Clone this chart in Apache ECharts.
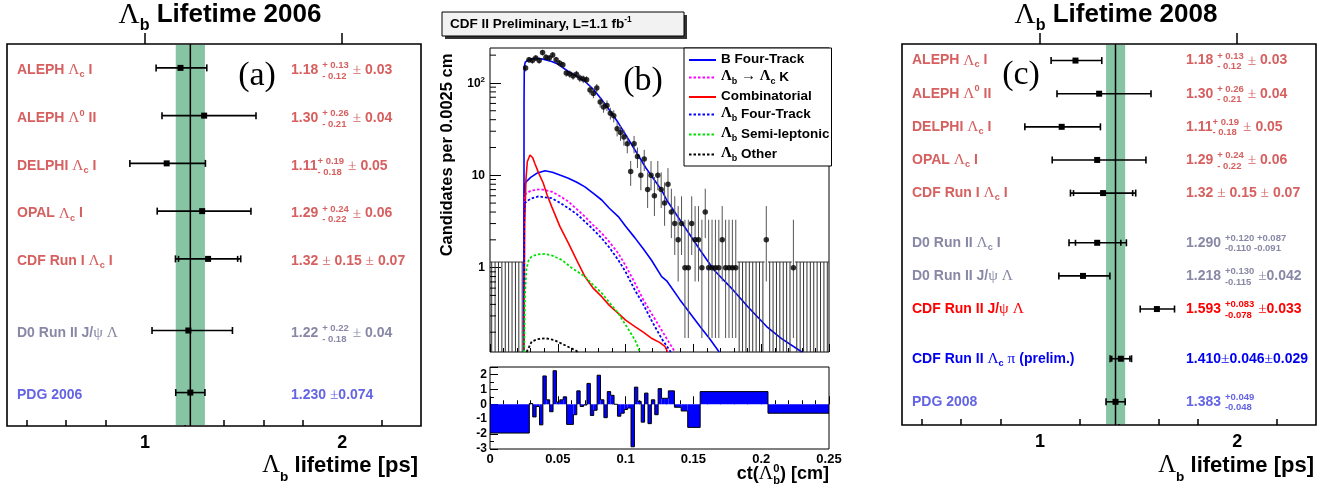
<!DOCTYPE html>
<html><head><meta charset="utf-8">
<script src="https://cdn.jsdelivr.net/npm/echarts@6/dist/echarts.min.js"></script>
<style>html,body{margin:0;padding:0;background:#fff}#c{width:1338px;height:489px}</style>
</head><body><div id="c"></div>
<script>
// ================= DATA =================
// Panel (a): Lambda_b lifetime 2006
const a_labels = ['ALEPH Λ_{c} I','ALEPH Λ^{0} II','DELPHI Λ_{c} I','OPAL Λ_{c} I','CDF Run I Λ_{c} I','D0 Run II J/ψ Λ','PDG 2006'];
const a_value  = [1.18, 1.30, 1.11, 1.29, 1.32, 1.22, 1.230];
const a_statUp = [0.13, 0.26, 0.19, 0.24, 0.15, 0.22, 0.074];
const a_statDn = [0.12, 0.21, 0.18, 0.22, 0.15, 0.18, 0.074];
const a_systUp = [0.03, 0.04, 0.05, 0.06, 0.07, 0.04, 0];
const a_systDn = [0.03, 0.04, 0.05, 0.06, 0.07, 0.04, 0];
const a_row    = [0.5, 1.5, 2.5, 3.5, 4.5, 6.0, 7.3];
const a_group  = ['lep','lep','lep','lep','lep','d0','pdg'];
const a_inner  = [0, 0, 0, 0, 1, 0, 0];
const a_text   = ['1.18 {{+ 0.13|- 0.12}} ± 0.03','1.30 {{+ 0.26|- 0.21}} ± 0.04','1.11{{+ 0.19|- 0.18}} ± 0.05',
                  '1.29 {{+ 0.24|- 0.22}} ± 0.06','1.32 ± 0.15 ± 0.07','1.22 {{+ 0.22|- 0.18}} ± 0.04','1.230 ±0.074'];
const a_pdg = {value: 1.230, up: 0.074, dn: 0.074};

// Panel (c): Lambda_b lifetime 2008
const c_labels = ['ALEPH Λ_{c} I','ALEPH Λ^{0} II','DELPHI Λ_{c} I','OPAL Λ_{c} I','CDF Run I Λ_{c} I',
                  'D0 Run II Λ_{c} I','D0 Run II J/ψ Λ','CDF Run II J/ψ Λ','CDF Run II Λ_{c} π (prelim.)','PDG 2008'];
const c_value  = [1.18, 1.30, 1.11, 1.29, 1.32, 1.290, 1.218, 1.593, 1.410, 1.383];
const c_statUp = [0.13, 0.26, 0.19, 0.24, 0.15, 0.120, 0.130, 0.083, 0.046, 0.049];
const c_statDn = [0.12, 0.21, 0.18, 0.22, 0.15, 0.110, 0.115, 0.078, 0.046, 0.048];
const c_systUp = [0.03, 0.04, 0.05, 0.06, 0.07, 0.087, 0.042, 0.033, 0.029, 0];
const c_systDn = [0.03, 0.04, 0.05, 0.06, 0.07, 0.091, 0.042, 0.033, 0.029, 0];
const c_row    = [0.5, 1.5, 2.5, 3.5, 4.5, 6, 7, 8, 9.5, 10.8];
const c_group  = ['lep','lep','lep','lep','lep','d0','d0','cdfR','cdfB','pdg'];
const c_inner  = [0, 0, 0, 0, 1, 1, 0, 0, 1, 0];
const c_text   = ['1.18 {{+ 0.13|- 0.12}} ± 0.03','1.30 {{+ 0.26|- 0.21}} ± 0.04','1.11{{+ 0.19|- 0.18}} ± 0.05',
                  '1.29 {{+ 0.24|- 0.22}} ± 0.06','1.32 ± 0.15 ± 0.07','1.290 {{+0.120 +0.087|-0.110 -0.091}}',
                  '1.218 {{+0.130|-0.115}} ±0.042','1.593 {{+0.083|-0.078}} ±0.033','1.410±0.046±0.029','1.383 {{+0.049|-0.048}}'];
const c_pdg = {value: 1.383, up: 0.049, dn: 0.048};

const lifeMajorTicks = [1, 2];
const lifeMinorTicks = [0.4, 0.6, 0.8, 1.2, 1.4, 1.6, 1.8, 2.2];

// Panel (b): ct distribution, counts per 0.0025 cm bin (bins 0..99)
const binWidth = 0.0025;
const counts = [
  0,0,0,0,0,0,0,0,0,0,
  145,178,175,186,175,213,190,186,201,178,
  164,157,128,125,119,124,113,110,108,84,
  77,88,62,55,57,47,44,32,29,26,
  22,11,22,16,10,15,7,10,6,10,
  7,5,8,4,3,2,3,1,1,3,
  2,2,1,4,1,1,1,1,2,1,
  1,1,1,0,0,0,0,0,0,0,
  0,2,0,0,0,0,0,0,0,1,
  0,0,0,0,0,0,0,0,0,0];
const zeroBinUpper = 1.15;
const poissonLo = [0, 0.173, 0.708, 1.37, 2.09, 2.84, 3.62, 4.42, 5.23, 6.06, 6.89];
const poissonHi = [1.15, 3.30, 4.64, 5.92, 7.16, 8.38, 9.58, 10.77, 11.95, 13.11, 14.27];

const fitTotal = [[0.0250,0.122],[0.0251,60],[0.0253,150],[0.0260,168],[0.0280,176],[0.0300,181],[0.0330,185],[0.0360,184],
  [0.0400,180],[0.0455,171],[0.0500,160],[0.0578,133],[0.0640,118],[0.0700,104],[0.0760,86],[0.0824,66],[0.0880,51],
  [0.0946,37],[0.1000,27.5],[0.1069,18.8],[0.1150,12],[0.1266,6.9],[0.1303,5.4],[0.1400,3.3],[0.1549,1.55],[0.1650,0.95],
  [0.1794,0.57],[0.1900,0.38],[0.2040,0.23],[0.2150,0.17],[0.2300,0.122]];
const bFourTrack = [[0.0250,0.122],[0.0252,5],[0.0256,8],[0.0267,8.5],[0.0300,9.5],[0.0350,10.6],[0.0406,11.2],[0.0460,10.8],
  [0.0520,10.0],[0.0578,9.3],[0.0640,8.4],[0.0700,7.5],[0.0760,6.4],[0.0824,5.4],[0.0880,4.4],[0.0946,3.57],[0.1000,2.8],
  [0.1069,2.1],[0.1130,1.6],[0.1190,1.21],[0.1266,0.8],[0.1303,0.72],[0.1400,0.45],[0.1549,0.23],[0.1620,0.17],[0.1690,0.122]];
const lbLcK = [[0.0250,0.122],[0.0252,4],[0.0256,6.2],[0.0300,6.8],[0.0369,7.07],[0.0455,6.66],[0.0520,5.9],[0.0578,5.19],
  [0.0640,4.3],[0.0700,3.57],[0.0760,2.9],[0.0824,2.36],[0.0880,1.9],[0.0946,1.43],[0.1000,1.05],[0.1069,0.68],[0.1130,0.45],
  [0.1190,0.32],[0.1266,0.21],[0.1320,0.155],[0.1364,0.122]];
const combinatorial = [[0.0250,0.122],[0.0256,3],[0.0265,9],[0.0275,14],[0.0295,16.6],[0.0315,15.5],[0.0330,13.5],[0.0360,10.5],
  [0.0393,8.2],[0.0420,6.2],[0.0455,4.58],[0.0516,2.78],[0.0578,1.84],[0.0640,1.2],[0.0700,0.8],[0.0760,0.6],[0.0824,0.485],
  [0.0880,0.39],[0.0946,0.32],[0.1000,0.27],[0.1069,0.23],[0.1130,0.2],[0.1190,0.172],[0.1250,0.155],[0.1290,0.14],[0.1310,0.122]];
const lbFourTrack = [[0.0250,0.122],[0.0252,3.5],[0.0256,5.0],[0.0300,5.6],[0.0357,5.9],[0.0455,5.65],[0.0520,5.0],[0.0578,4.4],
  [0.0640,3.8],[0.0700,3.15],[0.0760,2.6],[0.0824,2.08],[0.0880,1.65],[0.0946,1.21],[0.1000,0.9],[0.1069,0.57],[0.1130,0.4],
  [0.1190,0.27],[0.1266,0.17],[0.1333,0.122]];
const lbSemiLep = [[0.0252,0.122],[0.0258,0.5],[0.0268,0.95],[0.0285,1.2],[0.0307,1.32],[0.0350,1.39],[0.0406,1.41],[0.0460,1.35],
  [0.0530,1.21],[0.0600,1.0],[0.0700,0.8],[0.0760,0.65],[0.0824,0.53],[0.0880,0.42],[0.0946,0.32],[0.1000,0.24],[0.1069,0.165],[0.1106,0.122]];
const lbOther = [[0.0270,0.122],[0.0290,0.14],[0.0307,0.158],[0.0350,0.168],[0.0406,0.172],[0.0470,0.165],[0.0530,0.15],
  [0.0580,0.138],[0.0627,0.128],[0.0650,0.122]];

// residuals (bin edges and values)
const resEdges = [0, 0.0290, 0.0315, 0.0340, 0.0365, 0.0390, 0.0415, 0.0440, 0.0465, 0.0490, 0.0515, 0.0540, 0.0565, 0.0590,
  0.0615, 0.0640, 0.0665, 0.0690, 0.0715, 0.0740, 0.0765, 0.0790, 0.0815, 0.0840, 0.0865, 0.0890, 0.0915, 0.0940, 0.0965,
  0.0990, 0.1015, 0.1040, 0.1065, 0.1090, 0.1115, 0.1140, 0.1165, 0.1190, 0.1215, 0.1240, 0.1265, 0.1290, 0.1315,
  0.1360, 0.1410, 0.1458, 0.1550, 0.2050, 0.2500];
const resVals = [-1.93, 0.05, -0.85, -0.15, -1.38, 1.9, 0.3, -0.5, 2.25, 0.15, 0.3, 0.5, -1.35, -1.35, -0.7, 0.9, -0.15, -0.05,
  1.4, -0.75, -0.4, 1.95, 0.3, -0.9, 0.85, 0.6, 0, -0.8, -0.6, -0.35, -0.25, -2.85, 1.15, 0.2, -1.2, 0.75, -1.3, 0.3, -0.7,
  1.05, 0.4, 0.4, 0.9, -0.2, -0.45, -1.55, 0.85, -0.6];

// ================= HELPERS =================
const SANS = 'Liberation Sans', SERIF = 'Liberation Serif';
const GROUP_COLORS = {lep:'#d6605f', d0:'#8888a6', pdg:'#6464e4', cdfR:'#ff0000', cdfB:'#0000f0'};
const mctx = document.createElement('canvas').getContext('2d');
function tw(t, f) { mctx.font = f; return mctx.measureText(t).width; }
function parseMarkup(s) {
  const re = /(\{\{[^|}]*\|[^}]*\}\}|_\{[^}]*\}|\^\{[^}]*\}|[Λψπ→±])/g;
  const out = []; let last = 0, m;
  while ((m = re.exec(s))) {
    if (m.index > last) out.push({k:'n', t:s.slice(last, m.index)});
    const tok = m[0];
    if (tok.startsWith('{{')) { const p = tok.slice(2, -2).split('|'); out.push({k:'st', up:p[0], dn:p[1]}); }
    else if (tok[0] === '_') out.push({k:'sub', t:tok.slice(2, -1)});
    else if (tok[0] === '^') out.push({k:'sup', t:tok.slice(2, -1)});
    else out.push({k:'g', t:tok});
    last = re.lastIndex;
  }
  if (last < s.length) out.push({k:'n', t:s.slice(last)});
  return out;
}
function composeText(s, x, y, align, color, size, o) {
  o = Object.assign({sub:0.31, sup:-0.36, scr:0.66, g:1.1, stUp:-0.33, stDn:0.43}, o || {});
  const fN = `bold ${size}px "${SANS}"`;
  const fG = `${(size*o.g).toFixed(1)}px "${SERIF}"`;
  const fS = `bold ${(size*o.scr).toFixed(1)}px "${SANS}"`;
  const items = []; let w = 0;
  parseMarkup(s).forEach(t => {
    if (t.k === 'st') {
      items.push({t:t.up, f:fS, dx:w, dy:size*o.stUp});
      items.push({t:t.dn, f:fS, dx:w, dy:size*o.stDn});
      w += Math.max(tw(t.up, fS), tw(t.dn, fS));
    } else {
      const f = t.k === 'n' ? fN : (t.k === 'g' ? fG : fS);
      const dy = t.k === 'sub' ? size*o.sub : (t.k === 'sup' ? size*o.sup : 0);
      items.push({t:t.t, f, dx:w, dy});
      w += tw(t.t, f);
    }
  });
  const x0 = align === 'right' ? x - w : (align === 'center' ? x - w/2 : x);
  return items.map(it => ({type:'text', x:x0 + it.dx, y:y + it.dy, silent:true,
    style:{text:it.t, font:it.f, fill:color, align:'left', verticalAlign:'middle'}}));
}

function forestSeries(P, xIdx, yIdx, textDy) {
  const data = P.value.map((v, i) => {
    const tu = Math.sqrt(P.statUp[i]**2 + P.systUp[i]**2), td = Math.sqrt(P.statDn[i]**2 + P.systDn[i]**2);
    return [v, v - td, v + tu, v - P.statDn[i], v + P.statUp[i], P.row[i], i];
  });
  return {
    type:'custom', xAxisIndex:xIdx, yAxisIndex:yIdx, z:5, clip:false, data,
    encode:{x:[0,1,2], y:5},
    renderItem(params, api) {
      const i = api.value(6), cs = params.coordSys;
      const pc = api.coord([api.value(0), api.value(5)]);
      const y = pc[1];
      const xl = api.coord([api.value(1), api.value(5)])[0], xh = api.coord([api.value(2), api.value(5)])[0];
      const sl = api.coord([api.value(3), api.value(5)])[0], sh = api.coord([api.value(4), api.value(5)])[0];
      const ls = {stroke:'#000', lineWidth:1.6};
      const ch = [
        {type:'line', shape:{x1:xl, y1:y, x2:xh, y2:y}, style:ls},
        {type:'line', shape:{x1:xl, y1:y-3.5, x2:xl, y2:y+3.5}, style:ls},
        {type:'line', shape:{x1:xh, y1:y-3.5, x2:xh, y2:y+3.5}, style:ls}
      ];
      if (P.inner[i]) {
        ch.push({type:'line', shape:{x1:sl, y1:y-3, x2:sl, y2:y+3}, style:ls});
        ch.push({type:'line', shape:{x1:sh, y1:y-3, x2:sh, y2:y+3}, style:ls});
      }
      ch.push({type:'rect', shape:{x:pc[0]-3, y:y-3, width:6, height:6}, style:{fill:'#000'}});
      const col = GROUP_COLORS[P.group[i]];
      composeText(P.labels[i], cs.x + 10, y + textDy, 'left', col, 14).forEach(e => ch.push(e));
      composeText(P.text[i], cs.x + 284, y + textDy, 'left', col, 14, {scr:0.68}).forEach(e => ch.push(e));
      return {type:'group', children:ch};
    }
  };
}
function bandSeries(pdg, xIdx, yIdx) {
  return {
    type:'custom', xAxisIndex:xIdx, yAxisIndex:yIdx, z:1, clip:false,
    data:[[pdg.value - pdg.dn, pdg.value + pdg.up, pdg.value]], encode:{x:[0,1,2]},
    renderItem(params, api) {
      const cs = params.coordSys;
      const x0 = api.coord([api.value(0), 0])[0], x1 = api.coord([api.value(1), 0])[0], xc = api.coord([api.value(2), 0])[0];
      return {type:'group', children:[
        {type:'rect', shape:{x:x0, y:cs.y+1, width:x1-x0, height:cs.height-2}, style:{fill:'#86c4a4'}},
        {type:'line', shape:{x1:xc, y1:cs.y, x2:xc, y2:cs.y+cs.height}, style:{stroke:'#000', lineWidth:1.5}}
      ]};
    }
  };
}

// ================= CHART =================
const chart = echarts.init(document.getElementById('c'), null, {renderer:'canvas'});

const P_a = {labels:a_labels, value:a_value, statUp:a_statUp, statDn:a_statDn, systUp:a_systUp, systDn:a_systDn,
             row:a_row, group:a_group, inner:a_inner, text:a_text};
const P_c = {labels:c_labels, value:c_value, statUp:c_statUp, statDn:c_statDn, systUp:c_systUp, systDn:c_systDn,
             row:c_row, group:c_group, inner:c_inner, text:c_text};

function lifeAxes(gi) {
  return [
    {type:'value', gridIndex:gi, min:0.3, max:2.4, position:'bottom',
     axisLine:{show:false}, splitLine:{show:false},
     axisTick:{inside:true, length:11, customValues:lifeMajorTicks, lineStyle:{color:'#000', width:1.5}},
     axisLabel:{customValues:lifeMajorTicks, margin:8, color:'#000', fontFamily:SANS, fontWeight:'bold', fontSize:18}},
    {type:'value', gridIndex:gi, min:0.3, max:2.4, position:'bottom',
     axisLine:{show:false}, splitLine:{show:false},
     axisTick:{inside:true, length:6, customValues:lifeMinorTicks, lineStyle:{color:'#000', width:1.5}},
     axisLabel:{show:false}}
  ];
}

const compNames = ['B Four-Track', 'Λb → Λc K', 'Combinatorial', 'Λb Four-Track', 'Λb Semi-leptonic', 'Λb Other'];
const legendRich = {
  'B Four-Track':'{n|B Four-Track}',
  'Λb → Λc K':'{L|Λ}{s|b}{n| }{L|→}{n| }{L|Λ}{s|c}{n| K}',
  'Combinatorial':'{n|Combinatorial}',
  'Λb Four-Track':'{L|Λ}{s|b}{n| Four-Track}',
  'Λb Semi-leptonic':'{L|Λ}{s|b}{n| Semi-leptonic}',
  'Λb Other':'{L|Λ}{s|b}{n| Other}'
};
function curve(name, data, color, dashed) {
  return {type:'line', name, xAxisIndex:4, yAxisIndex:2, data, symbol:'none', showSymbol:false, smooth:false,
    z:3, color, lineStyle:{color, width:dashed ? 1.8 : 1.6, type:dashed ? [2.5, 2] : 'solid'}, silent:true, animation:false};
}

const points = counts.map((n, k) => n > 0 ? [(k + 0.5)*binWidth, n] : null).filter(Boolean);
const errItems = counts.map((n, k) => {
  let lo, hi;
  if (n === 0) { lo = 0; hi = zeroBinUpper; }
  else if (n < poissonLo.length) { lo = poissonLo[n]; hi = poissonHi[n]; }
  else { lo = n - Math.sqrt(n); hi = n + Math.sqrt(n); }
  return [(k + 0.5)*binWidth, hi, lo, n];
});
const logMinor = [];
[-1, 0, 1, 2].forEach(e => { for (let m = 2; m <= 9; m++) { const v = m*Math.pow(10, e); if (v > 0.122 && v < 239) logMinor.push([0, v]); } });
const resItems = resVals.map((v, i) => [resEdges[i], resEdges[i+1], v, i > 0 ? resVals[i-1] : 0, i === resVals.length - 1 ? 1 : 0]);

const option = {
  animation:false,
  backgroundColor:'#fff',
  grid:[
    {left:7, top:44, width:414, height:382, show:true, borderColor:'#000', borderWidth:1.6, backgroundColor:'transparent', outerBoundsMode:'none', containLabel:false},
    {left:902, top:44, width:414, height:381, show:true, borderColor:'#000', borderWidth:1.6, backgroundColor:'transparent', outerBoundsMode:'none', containLabel:false},
    {left:490, top:48, width:339, height:304, show:true, borderColor:'#000', borderWidth:1, backgroundColor:'transparent', outerBoundsMode:'none', containLabel:false},
    {left:490, top:367, width:339, height:82, show:true, borderColor:'#000', borderWidth:1, backgroundColor:'transparent', outerBoundsMode:'none', containLabel:false}
  ],
  xAxis:[
    ...lifeAxes(0), ...lifeAxes(1),
    {type:'value', gridIndex:2, min:0, max:0.25, interval:0.05, axisLine:{show:false}, splitLine:{show:false},
     axisTick:{inside:true, length:8, lineStyle:{color:'#000'}}, minorTick:{show:true, splitNumber:5, length:4, lineStyle:{color:'#000'}},
     axisLabel:{show:false}},
    {type:'value', gridIndex:3, min:0, max:0.25, interval:0.05, axisLine:{show:false}, splitLine:{show:false},
     axisTick:{inside:true, length:8, lineStyle:{color:'#000'}}, minorTick:{show:true, splitNumber:5, length:4, lineStyle:{color:'#000'}},
     axisLabel:{margin:4, color:'#000', fontFamily:SANS, fontWeight:'bold', fontSize:13,
       formatter:v => String(Math.round(v*100)/100)}}
  ],
  yAxis:[
    {type:'value', gridIndex:0, min:0, max:8, inverse:true, show:false},
    {type:'value', gridIndex:1, min:0, max:11.5, inverse:true, show:false},
    {type:'log', gridIndex:2, logBase:10, min:0.122, max:239, axisLine:{show:false}, splitLine:{show:false},
     axisTick:{inside:true, length:11, lineStyle:{color:'#000'}},
     axisLabel:{showMinLabel:false, showMaxLabel:false, margin:5, color:'#000', fontFamily:SANS, fontWeight:'bold', fontSize:12,
       formatter:v => { const e = Math.round(Math.log10(v)); return e === 2 ? '{b|10}{s|2}' : String(Math.round(v)); },
       rich:{b:{fontFamily:SANS, fontWeight:'bold', fontSize:12, color:'#000', verticalAlign:'bottom'},
             s:{fontFamily:SANS, fontWeight:'bold', fontSize:8, color:'#000', verticalAlign:'bottom', padding:[0,0,6,0]}}}},
    {type:'value', gridIndex:3, min:-3, max:2.5, interval:1, axisLine:{show:false}, splitLine:{show:false},
     axisTick:{inside:true, length:8, lineStyle:{color:'#000'}}, minorTick:{show:true, splitNumber:2, length:4, lineStyle:{color:'#000'}},
     axisLabel:{showMaxLabel:false, margin:3, color:'#000', fontFamily:SANS, fontWeight:'bold', fontSize:12}}
  ],
  legend:{
    data:compNames, left:684, top:48, orient:'vertical', padding:[4, 2, 3, 4], itemGap:3, itemWidth:27, itemHeight:14,
    backgroundColor:'#fff', borderColor:'#000', borderWidth:1, borderRadius:0, selectedMode:false,
    itemStyle:{opacity:0},
    formatter:n => legendRich[n],
    textStyle:{color:'#000', fontFamily:SANS, fontWeight:'bold', fontSize:13.5,
      rich:{n:{fontFamily:SANS, fontWeight:'bold', fontSize:13.5, color:'#000', verticalAlign:'bottom', padding:[0,0,2,0]},
            L:{fontFamily:SERIF, fontSize:15, color:'#000', verticalAlign:'bottom', padding:[0,0,2,0]},
            s:{fontFamily:SANS, fontWeight:'bold', fontSize:9, color:'#000', verticalAlign:'bottom'}}}
  },
  graphic:{elements:[
    ...composeText('Λ_{b} Lifetime 2006', 220, 15, 'center', '#000', 26, {sub:0.42, scr:0.62, g:1.12}),
    ...composeText('Λ_{b} Lifetime 2008', 1116, 15, 'center', '#000', 26, {sub:0.42, scr:0.62, g:1.12}),
    ...composeText('Λ_{b} lifetime [ps]', 418, 466, 'right', '#000', 22, {sub:0.5, scr:0.62, g:1.12}),
    ...composeText('Λ_{b} lifetime [ps]', 1314, 466, 'right', '#000', 22, {sub:0.5, scr:0.62, g:1.12}),
    ...composeText('ct(Λ{{0|b}}) [cm]', 829, 474, 'right', '#000', 18, {scr:0.62, stUp:-0.3, stDn:0.38}),
    {type:'text', x:447, y:155, rotation:Math.PI/2,
     style:{text:'Candidates per 0.0025 cm', font:`bold 16.5px "${SANS}"`, fill:'#000', align:'center', verticalAlign:'middle'}},
    {type:'text', x:257, y:76, style:{text:'(a)', font:`34px "${SERIF}"`, fill:'#000', align:'center', verticalAlign:'middle'}},
    {type:'text', x:643, y:81, style:{text:'(b)', font:`34px "${SERIF}"`, fill:'#000', align:'center', verticalAlign:'middle'}},
    {type:'text', x:1021, y:75, style:{text:'(c)', font:`34px "${SERIF}"`, fill:'#000', align:'center', verticalAlign:'middle'}},
    {type:'rect', shape:{x:445, y:15, width:242, height:24}, style:{fill:'#333'}},
    {type:'rect', shape:{x:442, y:12, width:242, height:24}, style:{fill:'#f2f2f2', stroke:'#000', lineWidth:1}},
    ...composeText('CDF II Preliminary, L=1.1 fb^{-1}', 450, 24.5, 'left', '#000', 13.5, {sup:-0.33, scr:0.62})
  ]},
  series:[
    bandSeries(a_pdg, 0, 0),
    forestSeries(P_a, 0, 0, 2.5),
    bandSeries(c_pdg, 2, 1),
    forestSeries(P_c, 2, 1, 0),
    curve('fit', fitTotal, '#0000ff', false),
    curve(compNames[0], bFourTrack, '#0000ff', false),
    curve(compNames[1], lbLcK, '#ff00ff', true),
    curve(compNames[2], combinatorial, '#ff0000', false),
    curve(compNames[3], lbFourTrack, '#0000ff', true),
    curve(compNames[4], lbSemiLep, '#00e000', true),
    curve(compNames[5], lbOther, '#000000', true),
    {type:'custom', xAxisIndex:4, yAxisIndex:2, z:4, clip:true, data:errItems, encode:{x:0, y:1}, silent:true,
     renderItem(params, api) {
       const cs = params.coordSys, bottom = cs.y + cs.height;
       const xc = api.value(0), hi = api.value(1), lo = api.value(2), n = api.value(3);
       const p = api.coord([xc, hi]);
       const yHi = Math.max(p[1], cs.y), yLo = lo > 0 ? Math.min(api.coord([xc, lo])[1], bottom) : bottom;
       const col = n === 0 ? '#333' : '#555';
       const ch = [{type:'line', shape:{x1:p[0], y1:yLo, x2:p[0], y2:yHi}, style:{stroke:col, lineWidth:1}}];
       if (n === 0) {
         const xa = api.coord([xc - binWidth/2, hi])[0], xb = api.coord([xc + binWidth/2, hi])[0];
         ch.push({type:'line', shape:{x1:xa, y1:yHi, x2:xb, y2:yHi}, style:{stroke:col, lineWidth:1}});
       }
       return {type:'group', children:ch};
     }},
    {type:'scatter', xAxisIndex:4, yAxisIndex:2, z:6, data:points, symbol:'circle', symbolSize:5.5,
     itemStyle:{color:'#000'}, silent:true},
    {type:'custom', xAxisIndex:4, yAxisIndex:2, z:7, clip:false, data:logMinor, encode:{x:0, y:1}, silent:true,
     renderItem(params, api) {
       const cs = params.coordSys, y = api.coord([0, api.value(1)])[1];
       return {type:'line', shape:{x1:cs.x, y1:y, x2:cs.x + 6, y2:y}, style:{stroke:'#000', lineWidth:1}};
     }},
    {type:'custom', xAxisIndex:5, yAxisIndex:3, z:3, clip:true, data:resItems, encode:{x:[0,1], y:2}, silent:true,
     renderItem(params, api) {
       const x0 = api.value(0), x1 = api.value(1), v = api.value(2), vp = api.value(3), last = api.value(4);
       const a = api.coord([x0, v]), b = api.coord([x1, 0]), c = api.coord([x0, vp]);
       const ch = [
         {type:'rect', shape:{x:a[0], y:Math.min(a[1], b[1]), width:b[0]-a[0], height:Math.abs(b[1]-a[1])}, style:{fill:'#0000ff'}},
         {type:'polyline', shape:{points:[[a[0], c[1]], [a[0], a[1]], [b[0], a[1]]].concat(last ? [[b[0], b[1]]] : [])},
          style:{stroke:'#000', lineWidth:1, fill:null}}
       ];
       return {type:'group', children:ch};
     }}
  ]
};
chart.setOption(option);
</script></body></html>
